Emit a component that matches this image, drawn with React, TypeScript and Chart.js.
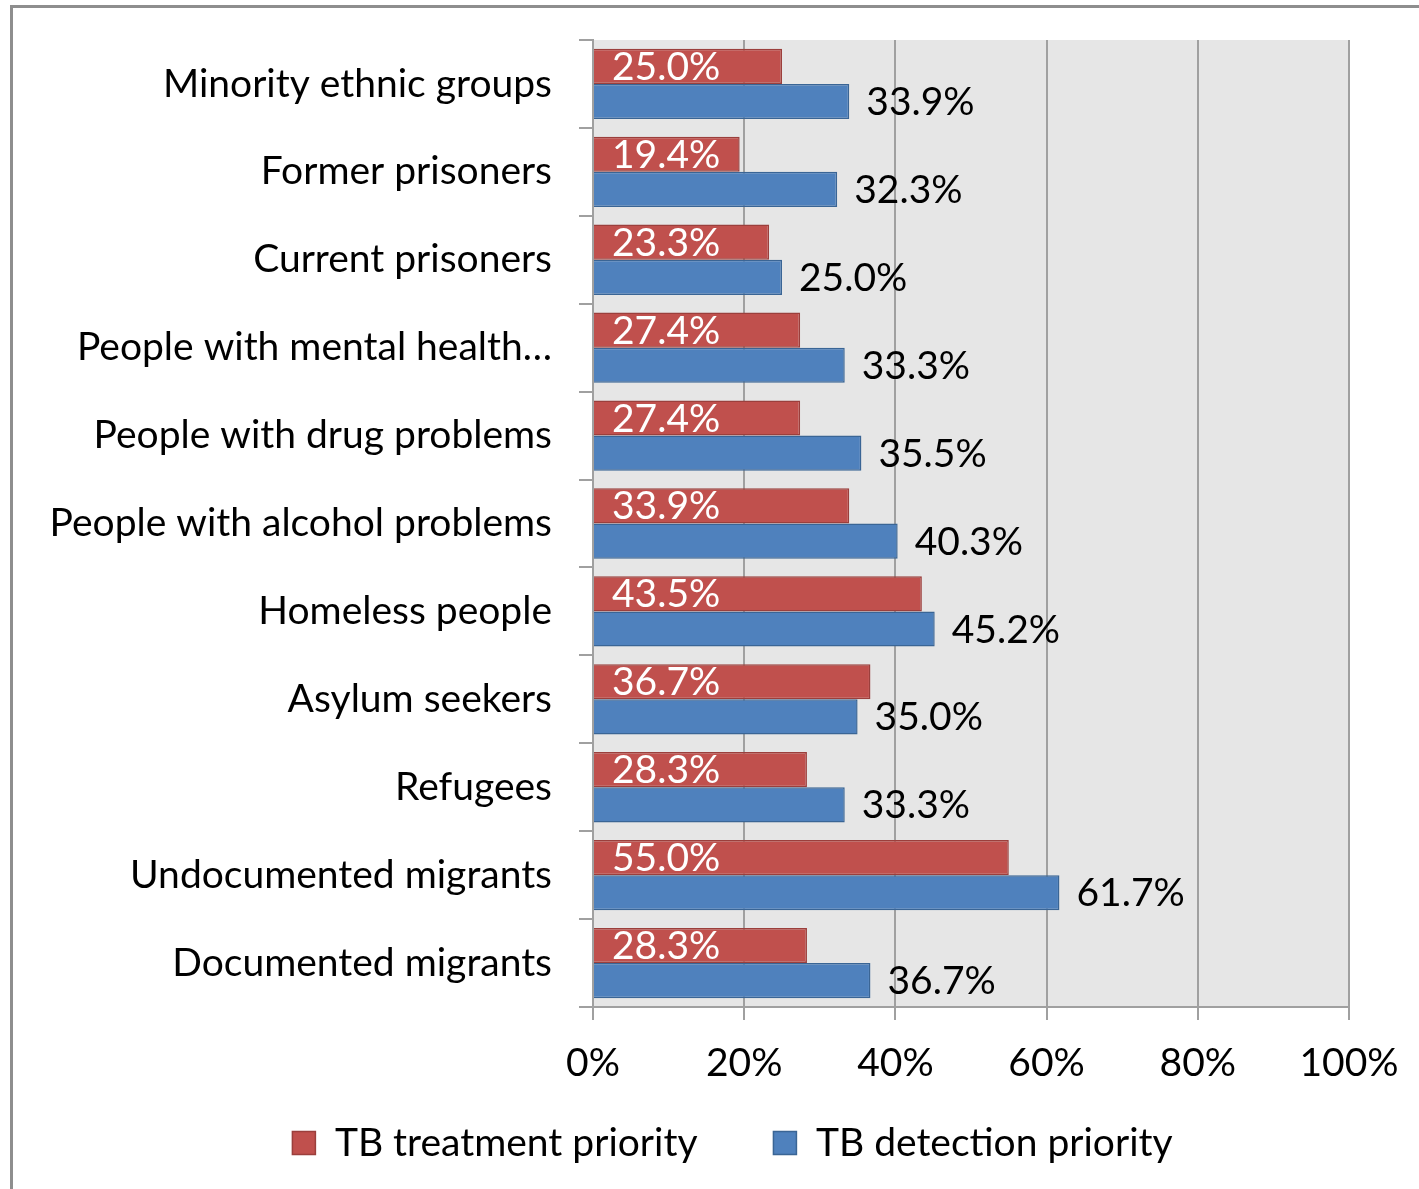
import React, { useEffect, useRef } from "react";
import { Chart, registerables } from "chart.js";

Chart.register(...registerables);

const categories = [
  "Minority ethnic groups",
  "Former prisoners",
  "Current prisoners",
  "People with mental health…",
  "People with drug problems",
  "People with alcohol problems",
  "Homeless people",
  "Asylum seekers",
  "Refugees",
  "Undocumented migrants",
  "Documented migrants",
];
const treatmentPriority = [25.0, 19.4, 23.3, 27.4, 27.4, 33.9, 43.5, 36.7, 28.3, 55.0, 28.3];
const detectionPriority = [33.9, 32.3, 25.0, 33.3, 35.5, 40.3, 45.2, 35.0, 33.3, 61.7, 36.7];
const seriesNames = ["TB treatment priority", "TB detection priority"];

const FONT = "Lato, 'Open Sans', sans-serif";
const FS = 39;
const LEGEND_SHIFT = 58;

const bgPlugin = {
  id: "plotBg",
  afterLayout(chart: any) {
    const lg = chart.legend;
    if (lg) {
      lg.left += LEGEND_SHIFT;
      lg.right += LEGEND_SHIFT;
    }
  },
  beforeDraw(chart: any) {
    const { ctx, chartArea } = chart;
    ctx.save();
    ctx.fillStyle = "#E6E6E6";
    ctx.fillRect(chartArea.left, chartArea.top, chartArea.right - chartArea.left, chartArea.bottom - chartArea.top);
    ctx.restore();
  },
  afterDraw(chart: any) {
    const { ctx } = chart;
    ctx.save();
    ctx.strokeStyle = "#8E8E8E";
    ctx.lineWidth = 3;
    ctx.beginPath();
    ctx.moveTo(11.5, chart.height);
    ctx.lineTo(11.5, 6.5);
    ctx.lineTo(chart.width, 6.5);
    ctx.stroke();
    ctx.restore();
  },
};

const labelPlugin = {
  id: "barLabels",
  afterDatasetsDraw(chart: any) {
    const { ctx } = chart;
    ctx.save();
    ctx.font = `${FS}px ${FONT}`;
    ctx.textBaseline = "middle";
    ctx.textAlign = "left";
    chart.data.datasets.forEach((ds: any, di: number) => {
      const meta = chart.getDatasetMeta(di);
      meta.data.forEach((el: any, i: number) => {
        const v = ds.data[i] as number;
        const txt = v.toFixed(1) + "%";
        if (di === 0) {
          ctx.fillStyle = "#FFFFFF";
          ctx.fillText(txt, el.base + 18, el.y + 1);
        } else {
          ctx.fillStyle = "#000000";
          ctx.fillText(txt, el.x + 17, el.y + 1);
        }
      });
    });
    ctx.restore();
  },
};

export default function App() {
  const ref = useRef<HTMLCanvasElement | null>(null);
  useEffect(() => {
    if (!ref.current) return;
    const chart = new Chart(ref.current, {
      type: "bar",
      data: {
        labels: categories,
        datasets: [
          {
            label: seriesNames[0],
            data: treatmentPriority,
            backgroundColor: "#C0504D",
            borderColor: "#9B3F3C",
            borderWidth: 1.5,
            categoryPercentage: 0.8,
            barPercentage: 1.0,
          },
          {
            label: seriesNames[1],
            data: detectionPriority,
            backgroundColor: "#4F81BD",
            borderColor: "#3A6595",
            borderWidth: 1.5,
            categoryPercentage: 0.8,
            barPercentage: 1.0,
          },
        ],
      },
      options: {
        indexAxis: "y",
        animation: false,
        responsive: false,
        maintainAspectRatio: false,
        layout: { padding: { top: 40, right: 70, left: 0, bottom: 16.5 } },
        plugins: {
          legend: {
            position: "bottom",
            labels: {
              boxWidth: 23,
              boxHeight: 23,
              padding: 36,
              color: "#000",
              font: { family: FONT, size: FS },
              generateLabels: (chart: any) => {
                const items = (Chart as any).defaults.plugins.legend.labels.generateLabels(chart);
                items.forEach((it: any, i: number) => {
                  if (i < items.length - 1) it.text = it.text + "    ";
                });
                return items;
              },
            },
          },
          tooltip: { enabled: false },
        },
        scales: {
          x: {
            min: 0,
            max: 100,
            ticks: {
              stepSize: 20,
              color: "#000",
              padding: 20,
              font: { family: FONT, size: FS },
              callback: (v: any) => v + "%",
            },
            grid: {
              color: "#A0A0A0",
              lineWidth: 2,
              drawTicks: true,
              tickLength: 13,
            },
            border: { display: true, color: "#A0A0A0", width: 2 },
            afterFit: (s: any) => {
              s.height = 80.5;
            },
          },
          y: {
            ticks: {
              color: "#000",
              padding: 27,
              font: { family: FONT, size: FS },
              autoSkip: false,
            },
            grid: {
              offset: true,
              drawOnChartArea: false,
              drawTicks: true,
              tickLength: 14,
              color: "#A0A0A0",
              lineWidth: 2,
            },
            border: { display: true, color: "#A0A0A0", width: 2 },
            afterFit: (s: any) => {
              s.width = 593;
              s.paddingTop = 0;
              s.paddingBottom = 0;
            },
          },
        },
      },
      plugins: [bgPlugin, labelPlugin],
    });
    return () => chart.destroy();
  }, []);
  return (
    <div style={{ position: "fixed", left: 0, top: 0, width: 1419, height: 1189, background: "#fff" }}>
      <canvas ref={ref} width={1419} height={1189} style={{ display: "block" }} />
    </div>
  );
}
